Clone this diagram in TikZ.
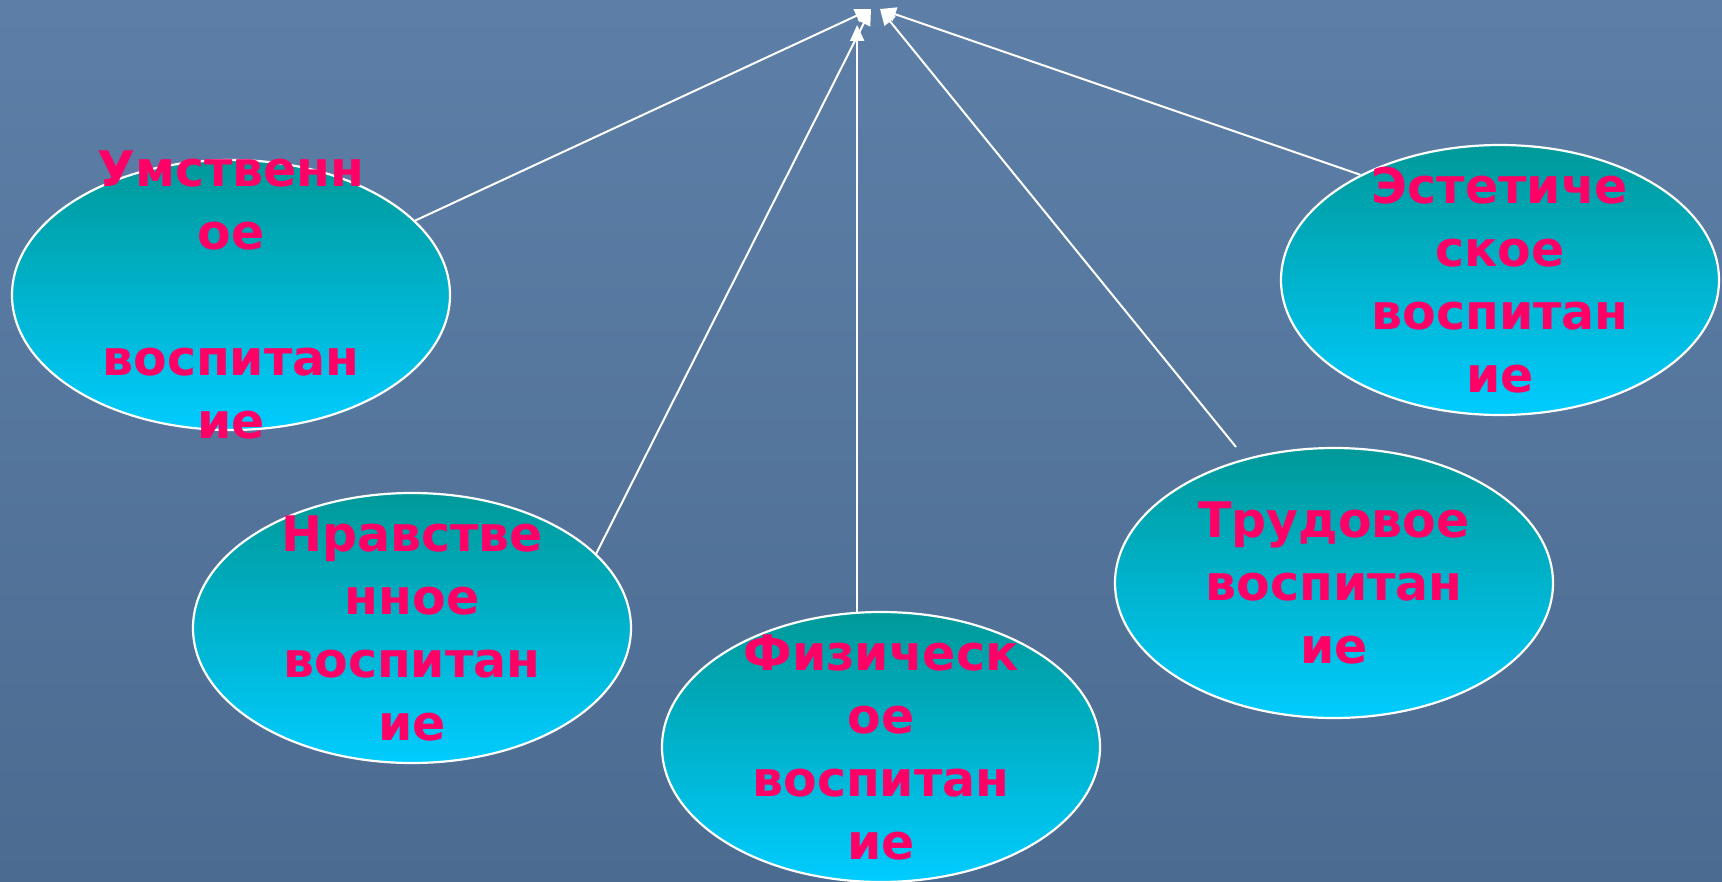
\documentclass[tikz,border=0pt]{standalone}
\usepackage{fontspec}
\setmainfont{DejaVu Sans}
\usepackage{xcolor}
\usetikzlibrary{arrows.meta,shapes.geometric}

\definecolor{bgtop}{RGB}{93,127,167}
\definecolor{bgbot}{RGB}{76,107,145}
\definecolor{ovtop}{RGB}{0,153,153}
\definecolor{ovbot}{RGB}{0,204,255}
\definecolor{txtpink}{RGB}{255,0,102}

\begin{document}
\begin{tikzpicture}[x=0.5pt,y=-0.5pt,
  edu/.style={ellipse,draw=white,line width=1.1pt,inner sep=0pt,
    minimum width=219pt,minimum height=135pt,
    top color=ovtop,bottom color=ovbot},
  lbl/.style={align=center,text=txtpink,inner sep=0pt,
    font=\fontsize{24.5}{31.5}\selectfont\bfseries},
  arr/.style={draw=white,line width=1pt,-{Triangle[length=8pt,width=7pt]}}]
\useasboundingbox (0,0) rectangle (1722,882);
% background
\shade[top color=bgtop,bottom color=bgbot] (0,0) rectangle (1722,882);
% ellipses
\node[edu] (um) at (231,295) {};
\node[edu] (nr) at (412,628) {};
\node[edu] (fz) at (881,747) {};
\node[edu] (tr) at (1334,583) {};
\node[edu] (es) at (1500,280) {};
\node[lbl] (umT) at (um) {Умственн\\ое\\[31.5pt]воспитан\\ие};
\node[lbl] (nrT) at (nr) {Нравстве\\нное\\воспитан\\ие};
\node[lbl] (fzT) at (fz) {Физическ\\ое\\воспитан\\ие};
\node[lbl] (trT) at (tr) {Трудовое\\воспитан\\ие};
\node[lbl] (esT) at (es) {Эстетиче\\ское\\воспитан\\ие};
% arrows to the top
\coordinate (apexL) at (871,9);
\coordinate (apexR) at (880,9);
\coordinate (apexF) at (858,25);
\coordinate (trTop) at (1236,447);
\draw[arr] (um.22) -- (apexL);
\draw[arr] (nr.22) -- (apexL);
\draw[arr] (fz.100) -- (fz.100 |- apexF);
\draw[arr] (trTop) -- (apexR);
\draw[arr] (es.143) -- (apexR);
\end{tikzpicture}
\end{document}
